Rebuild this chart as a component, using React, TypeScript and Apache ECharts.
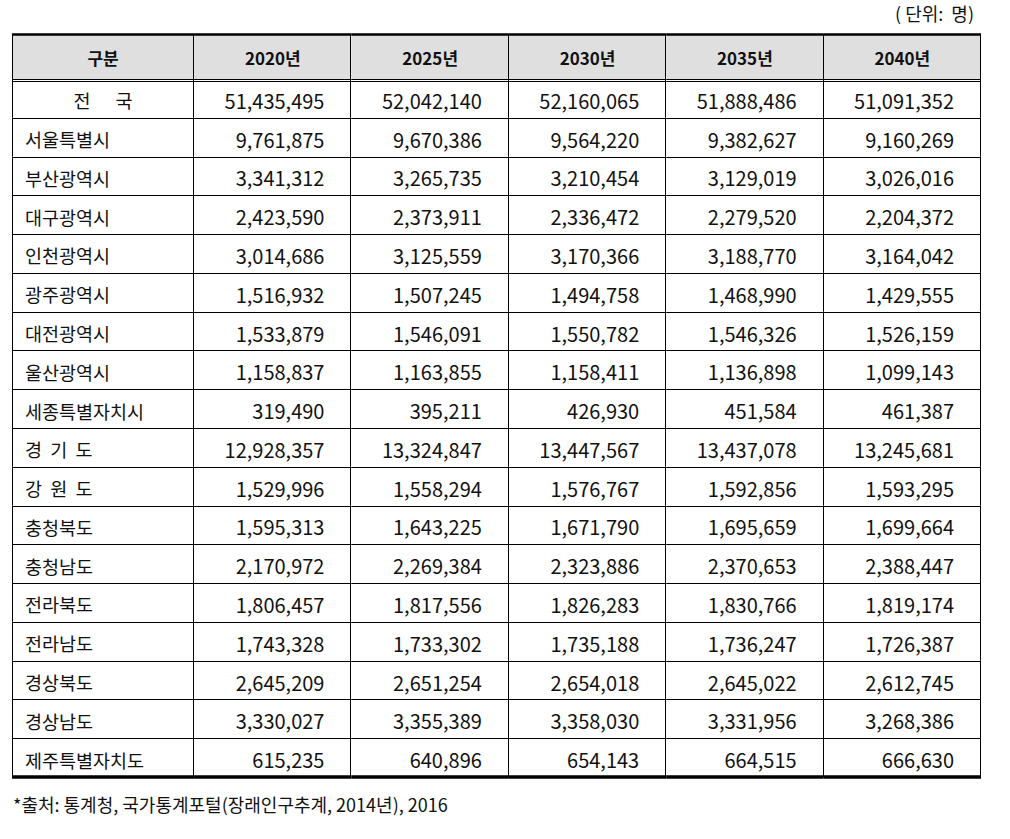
import React, { useEffect, useRef } from "react";
import * as echarts from "echarts";

const headerLabel = "구분";
const years = ["2020년", "2025년", "2030년", "2035년", "2040년"];
const regions = [
  "전      국",
  "서울특별시",
  "부산광역시",
  "대구광역시",
  "인천광역시",
  "광주광역시",
  "대전광역시",
  "울산광역시",
  "세종특별자치시",
  "경  기  도",
  "강  원  도",
  "충청북도",
  "충청남도",
  "전라북도",
  "전라남도",
  "경상북도",
  "경상남도",
  "제주특별자치도",
];
const pop2020 = [51435495, 9761875, 3341312, 2423590, 3014686, 1516932, 1533879, 1158837, 319490, 12928357, 1529996, 1595313, 2170972, 1806457, 1743328, 2645209, 3330027, 615235];
const pop2025 = [52042140, 9670386, 3265735, 2373911, 3125559, 1507245, 1546091, 1163855, 395211, 13324847, 1558294, 1643225, 2269384, 1817556, 1733302, 2651254, 3355389, 640896];
const pop2030 = [52160065, 9564220, 3210454, 2336472, 3170366, 1494758, 1550782, 1158411, 426930, 13447567, 1576767, 1671790, 2323886, 1826283, 1735188, 2654018, 3358030, 654143];
const pop2035 = [51888486, 9382627, 3129019, 2279520, 3188770, 1468990, 1546326, 1136898, 451584, 13437078, 1592856, 1695659, 2370653, 1830766, 1736247, 2645022, 3331956, 664515];
const pop2040 = [51091352, 9160269, 3026016, 2204372, 3164042, 1429555, 1526159, 1099143, 461387, 13245681, 1593295, 1699664, 2388447, 1819174, 1726387, 2612745, 3268386, 666630];
const unitText = "( 단위:  명)";
const sourceText = "*출처: 통계청, 국가통계포털(장래인구추계, 2014년), 2016";

const popByYear = [pop2020, pop2025, pop2030, pop2035, pop2040];

const FONT = '"Noto Sans CJK KR", "Noto Sans", sans-serif';
const W0 = 1.157; // first column width in column units
const H0 = 1.16; // header row height in row units
const nCols = years.length + 1;
const nRows = regions.length + 1;
const xMax = nCols - 1 + W0;
const yMax = nRows - 1 + H0;
const edgeX = (c: number) => (c === 0 ? 0 : c - 1 + W0);
const edgeY = (r: number) => (r === 0 ? 0 : r - 1 + H0);

const cellText = (c: number, r: number): string => {
  if (r === 0) return c === 0 ? headerLabel : years[c - 1];
  if (c === 0) return regions[r - 1];
  return popByYear[c - 1][r - 1].toLocaleString("en-US");
};

export default function App() {
  const ref = useRef<HTMLDivElement>(null);
  useEffect(() => {
    if (!ref.current) return;
    const chart = echarts.init(ref.current, undefined, { renderer: "svg" });
    const data: number[][] = [];
    for (let r = 0; r < nRows; r++) for (let c = 0; c < nCols; c++) data.push([c, r]);

    const px = (v: number) => Math.round(v) + 0.5;

    const cellBox = (api: any) => {
      const c = api.value(0);
      const r = api.value(1);
      const p0 = api.coord([edgeX(c), edgeY(r)]);
      const p1 = api.coord([edgeX(c + 1), edgeY(r + 1)]);
      return { c, r, x0: p0[0], y0: p0[1], x1: p1[0], y1: p1[1] };
    };

    const renderFill = (params: any, api: any) => {
      const { r, x0, y0, x1, y1 } = cellBox(api);
      return {
        type: "rect",
        shape: { x: x0, y: y0, width: x1 - x0, height: y1 - y0 },
        style: { fill: r === 0 ? "#dfdfdf" : "#ffffff" },
      };
    };

    const renderCell = (params: any, api: any) => {
      const { c, r, x0, y0, x1, y1 } = cellBox(api);
      const children: any[] = [];
      const text = cellText(c, r);
      if (r === 0) {
        children.push({
          type: "text",
          style: {
            text, x: (x0 + x1) / 2, y: (y0 + y1) / 2 + 1.5,
            align: "center", verticalAlign: "middle",
            fontFamily: FONT, fontSize: 17, fontWeight: "bold", fill: "#111",
          },
        });
      } else if (c === 0) {
        const centered = r === 1;
        children.push({
          type: "text",
          style: {
            text, x: centered ? (x0 + x1) / 2 : x0 + 13, y: (y0 + y1) / 2 + 2,
            align: centered ? "center" : "left", verticalAlign: "middle",
            fontFamily: FONT, fontSize: 18.5, fill: "#111",
          },
        });
      } else {
        children.push({
          type: "text",
          style: {
            text, x: x1 - 27, y: (y0 + y1) / 2 + 2,
            align: "right", verticalAlign: "middle",
            fontFamily: FONT, fontSize: 20, fill: "#111",
          },
        });
      }
      const thin = { stroke: "#000", lineWidth: 1 };
      children.push({ type: "line", shape: { x1: px(x1) - 1, y1: y0, x2: px(x1) - 1, y2: y1 }, style: thin });
      if (c === 0) children.push({ type: "line", shape: { x1: px(x0), y1: y0, x2: px(x0), y2: y1 }, style: thin });
      if (r === 0) {
        children.push({ type: "line", shape: { x1: x0, y1: y0 + 0.5, x2: x1, y2: y0 + 0.5 }, style: { stroke: "#000", lineWidth: 2.5 } });
        children.push({ type: "line", shape: { x1: x0, y1: px(y1), x2: x1, y2: px(y1) }, style: thin });
        children.push({ type: "line", shape: { x1: x0, y1: px(y1) + 2, x2: x1, y2: px(y1) + 2 }, style: thin });
      } else if (r === nRows - 1) {
        children.push({ type: "line", shape: { x1: x0, y1: y1, x2: x1, y2: y1 }, style: { stroke: "#000", lineWidth: 3.5 } });
      } else {
        children.push({ type: "line", shape: { x1: x0, y1: px(y1), x2: x1, y2: px(y1) }, style: thin });
      }
      return { type: "group", children };
    };

    chart.setOption({
      animation: false,
      backgroundColor: "#ffffff",
      grid: { left: 12, right: 29, top: 34, bottom: 62 },
      xAxis: { type: "value", min: 0, max: xMax, show: false },
      yAxis: { type: "value", min: 0, max: yMax, inverse: true, show: false },
      graphic: [
        {
          type: "text",
          right: 36,
          top: 4,
          style: { text: unitText, fontFamily: FONT, fontSize: 18, fill: "#111" },
        },
        {
          type: "text",
          left: 13,
          top: 795,
          style: { text: sourceText, fontFamily: FONT, fontSize: 18, fill: "#111" },
        },
      ],
      series: [
        { type: "custom", renderItem: renderFill, data, clip: false, silent: true, encode: { x: 0, y: 1 } },
        { type: "custom", renderItem: renderCell, data, clip: false, silent: true, encode: { x: 0, y: 1 } },
      ],
    });
    return () => chart.dispose();
  }, []);
  return (
    <div
      ref={ref}
      style={{ position: "absolute", left: 0, top: 0, width: 1010, height: 839, background: "#fff" }}
    />
  );
}
